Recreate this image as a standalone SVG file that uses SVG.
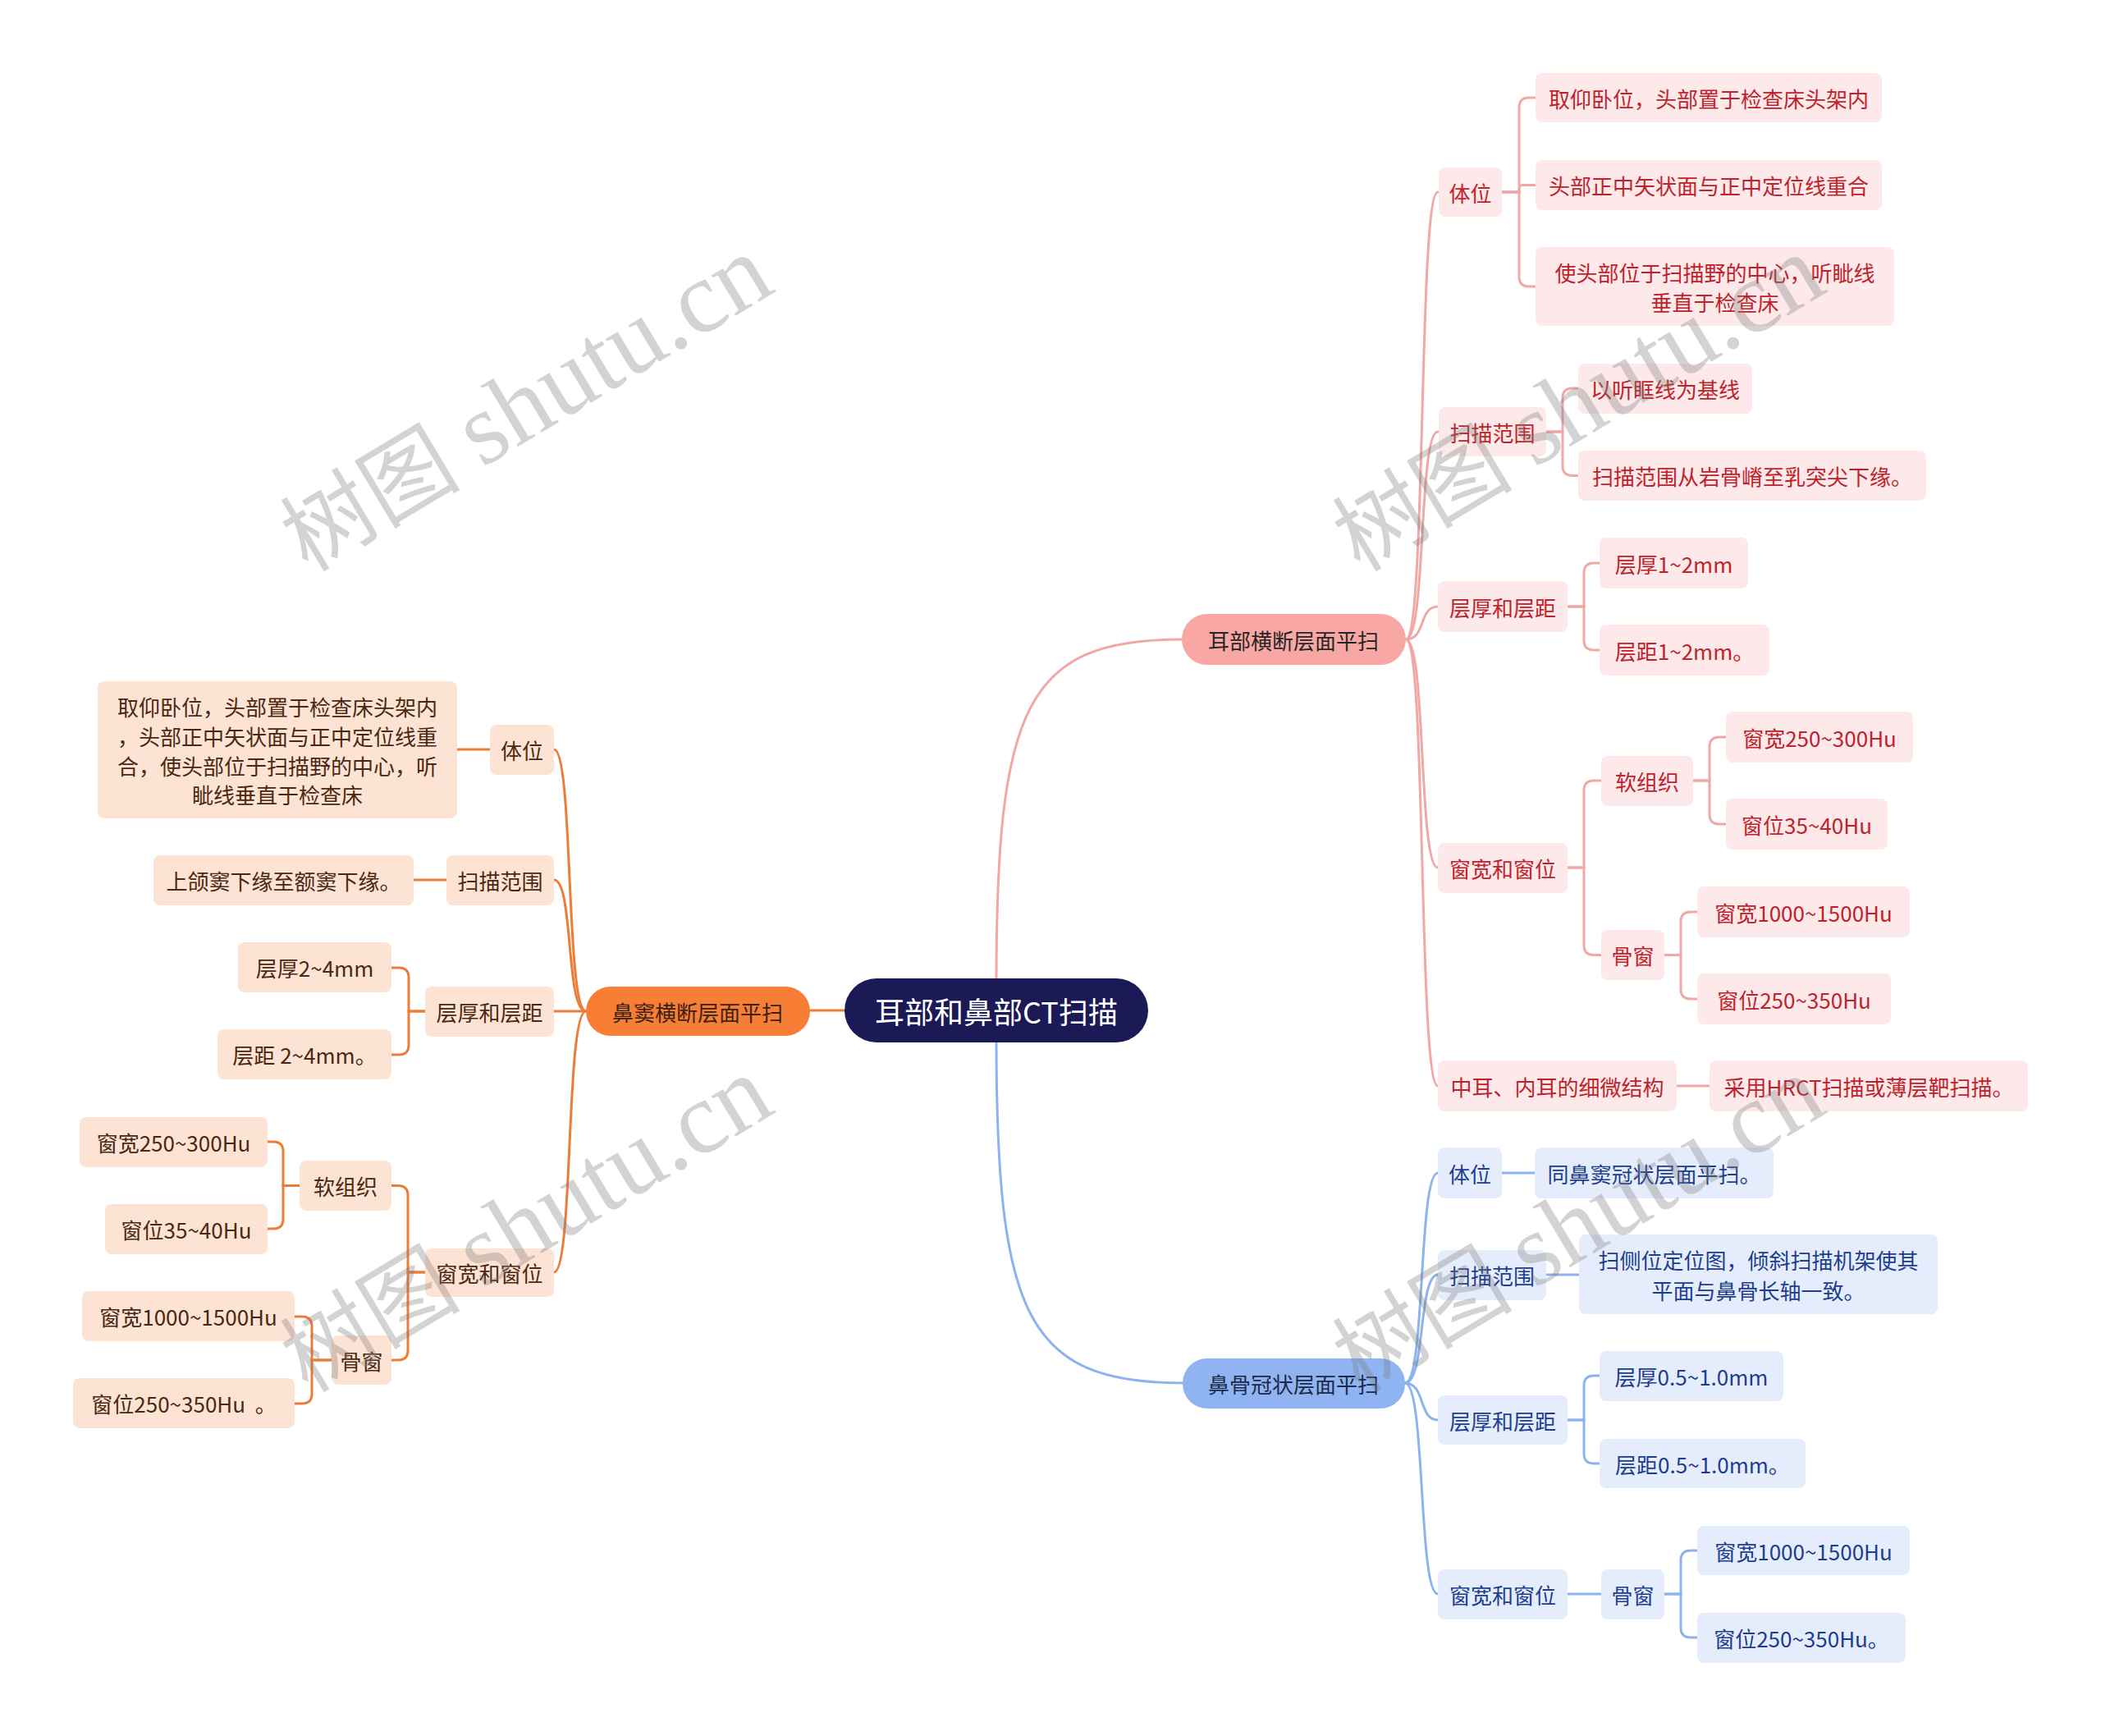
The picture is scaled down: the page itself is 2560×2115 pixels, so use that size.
<svg xmlns="http://www.w3.org/2000/svg" width="2560" height="2115" viewBox="0 0 2560 2115">
<style>
text{font-family:"Noto Sans CJK SC","Noto Sans",sans-serif;font-size:26px;text-anchor:middle;dominant-baseline:central}
.ln{fill:none;stroke-width:3;stroke-linecap:round}
.lp{stroke:#f0a8a6}
.lo{stroke:#ec7d38}
.lb{stroke:#8db2ec}
.pk rect{fill:#fde9e9}
.pk text{fill:#c0222b}
.or rect{fill:#fde3d3}
.or text{fill:#4a2812}
.bl rect{fill:#e5edfc}
.bl text{fill:#1d3d8e}
.wm{font-family:"Liberation Serif","Noto Sans CJK SC",serif;fill:#7a7a7a;opacity:0.32;text-anchor:start;dominant-baseline:alphabetic}
</style>
<rect width="2560" height="2115" fill="#ffffff"/>
<g id="connectors">
<path class="ln lp" d="M1214,1200 C1214,860 1250,779 1440,779"/>
<path class="ln lb" d="M1214,1262 C1214,1602 1250,1685 1441,1685"/>
<path class="ln lo" d="M1029,1231 H987"/>
<path class="ln lp" d="M1713,779 C1738,779 1728,234 1752,234"/>
<path class="ln lp" d="M1713,779 C1738,779 1728,526 1752,526"/>
<path class="ln lp" d="M1713,779 C1738,779 1728,739 1752,739"/>
<path class="ln lp" d="M1713,779 C1738,779 1728,1057 1752,1057"/>
<path class="ln lp" d="M1713,779 C1738,779 1728,1323 1752,1323"/>
<path class="ln lp" d="M1830,234 H1851 V131 Q1851,119 1863,119 H1871"/>
<path class="ln lp" d="M1830,234 H1851 V230 Q1851,225.5 1855.5,225.5 H1871"/>
<path class="ln lp" d="M1830,234 H1851 V337 Q1851,349 1863,349 H1871"/>
<path class="ln lp" d="M1884,526 H1904 V485 Q1904,473 1916,473 H1923"/>
<path class="ln lp" d="M1884,526 H1904 V567.5 Q1904,579.5 1916,579.5 H1923"/>
<path class="ln lp" d="M1910,739 H1930 V698 Q1930,686 1942,686 H1949"/>
<path class="ln lp" d="M1910,739 H1930 V780 Q1930,792 1942,792 H1949"/>
<path class="ln lp" d="M1910,1057 H1930 V963 Q1930,951 1942,951 H1951"/>
<path class="ln lp" d="M1910,1057 H1930 V1151.5 Q1930,1163.5 1942,1163.5 H1951"/>
<path class="ln lp" d="M2063,951 H2083 V910 Q2083,898 2095,898 H2103"/>
<path class="ln lp" d="M2063,951 H2083 V992 Q2083,1004 2095,1004 H2103"/>
<path class="ln lp" d="M2028,1163.5 H2048 V1123 Q2048,1111 2060,1111 H2068"/>
<path class="ln lp" d="M2028,1163.5 H2048 V1205 Q2048,1217 2060,1217 H2068"/>
<path class="ln lp" d="M2043,1323 H2083"/>
<path class="ln lb" d="M1712,1685 C1737,1685 1728,1429 1752,1429"/>
<path class="ln lb" d="M1712,1685 C1737,1685 1728,1553 1752,1553"/>
<path class="ln lb" d="M1712,1685 C1737,1685 1728,1730 1752,1730"/>
<path class="ln lb" d="M1712,1685 C1737,1685 1728,1942 1752,1942"/>
<path class="ln lb" d="M1830,1429 H1870"/>
<path class="ln lb" d="M1884,1553 H1924"/>
<path class="ln lb" d="M1910,1730 H1930 V1688 Q1930,1676 1942,1676 H1949"/>
<path class="ln lb" d="M1910,1730 H1930 V1771 Q1930,1783 1942,1783 H1949"/>
<path class="ln lb" d="M1910,1942 H1951"/>
<path class="ln lb" d="M2028,1942 H2048 V1901 Q2048,1889 2060,1889 H2068"/>
<path class="ln lb" d="M2028,1942 H2048 V1983 Q2048,1995 2060,1995 H2068"/>
<path class="ln lo" d="M714,1232 C689,1232 699,913 675,913"/>
<path class="ln lo" d="M714,1232 C689,1232 699,1072 675,1072"/>
<path class="ln lo" d="M714,1232 H675"/>
<path class="ln lo" d="M714,1232 C689,1232 699,1550 675,1550"/>
<path class="ln lo" d="M597,913 H557"/>
<path class="ln lo" d="M544,1072 H504"/>
<path class="ln lo" d="M518,1232 H498 V1191 Q498,1179 486,1179 H477"/>
<path class="ln lo" d="M518,1232 H498 V1273 Q498,1285 486,1285 H477"/>
<path class="ln lo" d="M518,1550 H497 V1456.5 Q497,1444.5 485,1444.5 H477"/>
<path class="ln lo" d="M518,1550 H497 V1645 Q497,1657 485,1657 H477"/>
<path class="ln lo" d="M365,1444.5 H345 V1403 Q345,1391 333,1391 H326"/>
<path class="ln lo" d="M365,1444.5 H345 V1485 Q345,1497 333,1497 H326"/>
<path class="ln lo" d="M404,1657 H380 V1616 Q380,1604 368,1604 H359"/>
<path class="ln lo" d="M404,1657 H380 V1698 Q380,1710 368,1710 H359"/>
</g>
<g id="root"><rect x="1029" y="1192" width="370" height="78" rx="39" fill="#1b1a57"/><text x="1214" y="1231" style="font-size:36px;fill:#ffffff">耳部和鼻部CT扫描</text></g>
<g id="ear"><rect x="1440" y="748" width="273" height="62" rx="31" fill="#f8a7a5"/><text x="1576" y="779" fill="#262626">耳部横断层面平扫</text></g>
<g id="sinus"><rect x="714" y="1202" width="273" height="60" rx="30" fill="#f77e34"/><text x="850" y="1232" fill="#3a2212">鼻窦横断层面平扫</text></g>
<g id="nasal"><rect x="1441" y="1655" width="271" height="61" rx="30" fill="#8fb4f1"/><text x="1576" y="1685" fill="#1c2a4a">鼻骨冠状层面平扫</text></g>

<g id="p1" class="pk"><rect x="1753" y="204" width="77" height="60" rx="8"/><text x="1791.5" y="234">体位</text></g>
<g id="p1a" class="pk"><rect x="1871" y="89" width="422" height="60" rx="8"/><text x="2082" y="119">取仰卧位，头部置于检查床头架内</text></g>
<g id="p1b" class="pk"><rect x="1871" y="195" width="422" height="61" rx="8"/><text x="2082" y="225.5">头部正中矢状面与正中定位线重合</text></g>
<g id="p1c" class="pk"><rect x="1871" y="301" width="437" height="96" rx="8"/><text x="2089.5" y="331">使头部位于扫描野的中心，听眦线</text><text x="2089.5" y="367">垂直于检查床</text></g>
<g id="p2" class="pk"><rect x="1753" y="496" width="131" height="60" rx="8"/><text x="1818.5" y="526">扫描范围</text></g>
<g id="p2a" class="pk"><rect x="1923" y="443" width="212" height="61" rx="8"/><text x="2029" y="473.5">以听眶线为基线</text></g>
<g id="p2b" class="pk"><rect x="1923" y="549" width="424" height="61" rx="8"/><text x="2135" y="579.5">扫描范围从岩骨嵴至乳突尖下缘。</text></g>
<g id="p3" class="pk"><rect x="1752" y="708" width="158" height="62" rx="8"/><text x="1831" y="739">层厚和层距</text></g>
<g id="p3a" class="pk"><rect x="1949" y="655" width="181" height="62" rx="8"/><text x="2039.5" y="686">层厚1~2mm</text></g>
<g id="p3b" class="pk"><rect x="1949" y="761" width="207" height="62" rx="8"/><text x="2052.5" y="792">层距1~2mm。</text></g>
<g id="p4" class="pk"><rect x="1752" y="1027" width="158" height="61" rx="8"/><text x="1831" y="1057.5">窗宽和窗位</text></g>
<g id="p4a" class="pk"><rect x="1951" y="921" width="112" height="61" rx="8"/><text x="2007" y="951.5">软组织</text></g>
<g id="p4a1" class="pk"><rect x="2103" y="867" width="228" height="62" rx="8"/><text x="2217" y="898">窗宽250~300Hu</text></g>
<g id="p4a2" class="pk"><rect x="2103" y="973" width="197" height="62" rx="8"/><text x="2201.5" y="1004">窗位35~40Hu</text></g>
<g id="p4b" class="pk"><rect x="1951" y="1133" width="77" height="61" rx="8"/><text x="1989.5" y="1163.5">骨窗</text></g>
<g id="p4b1" class="pk"><rect x="2068" y="1080" width="259" height="62" rx="8"/><text x="2197.5" y="1111">窗宽1000~1500Hu</text></g>
<g id="p4b2" class="pk"><rect x="2068" y="1186" width="236" height="62" rx="8"/><text x="2186" y="1217">窗位250~350Hu</text></g>
<g id="p5" class="pk"><rect x="1752" y="1292" width="291" height="62" rx="8"/><text x="1897.5" y="1323">中耳、内耳的细微结构</text></g>
<g id="p5a" class="pk"><rect x="2083" y="1292" width="388" height="62" rx="8"/><text x="2277" y="1323">采用HRCT扫描或薄层靶扫描。</text></g>

<g id="b1" class="bl"><rect x="1752" y="1398" width="78" height="62" rx="8"/><text x="1791" y="1429">体位</text></g>
<g id="b1a" class="bl"><rect x="1870" y="1398" width="291" height="62" rx="8"/><text x="2015.5" y="1429">同鼻窦冠状层面平扫。</text></g>
<g id="b2" class="bl"><rect x="1752" y="1523" width="132" height="61" rx="8"/><text x="1818" y="1553.5">扫描范围</text></g>
<g id="b2a" class="bl"><rect x="1924" y="1504" width="437" height="97" rx="8"/><text x="2142.5" y="1534">扫侧位定位图，倾斜扫描机架使其</text><text x="2142.5" y="1571">平面与鼻骨长轴一致。</text></g>
<g id="b3" class="bl"><rect x="1752" y="1700" width="158" height="60" rx="8"/><text x="1831" y="1730">层厚和层距</text></g>
<g id="b3a" class="bl"><rect x="1949" y="1646" width="224" height="61" rx="8"/><text x="2061" y="1676.5">层厚0.5~1.0mm</text></g>
<g id="b3b" class="bl"><rect x="1949" y="1753" width="251" height="60" rx="8"/><text x="2074.5" y="1783">层距0.5~1.0mm。</text></g>
<g id="b4" class="bl"><rect x="1752" y="1912" width="158" height="61" rx="8"/><text x="1831" y="1942.5">窗宽和窗位</text></g>
<g id="b4a" class="bl"><rect x="1951" y="1912" width="77" height="61" rx="8"/><text x="1989.5" y="1942.5">骨窗</text></g>
<g id="b4a1" class="bl"><rect x="2068" y="1859" width="259" height="60" rx="8"/><text x="2197.5" y="1889">窗宽1000~1500Hu</text></g>
<g id="b4a2" class="bl"><rect x="2068" y="1965" width="254" height="61" rx="8"/><text x="2195" y="1995.5">窗位250~350Hu。</text></g>

<g id="o1" class="or"><rect x="597" y="883" width="78" height="61" rx="8"/><text x="636" y="913.5">体位</text></g>
<g id="o1a" class="or"><rect x="119" y="830" width="438" height="167" rx="8"/><text x="338" y="860">取仰卧位，头部置于检查床头架内</text><text x="338" y="896">，头部正中矢状面与正中定位线重</text><text x="338" y="932">合，使头部位于扫描野的中心，听</text><text x="338" y="967">眦线垂直于检查床</text></g>
<g id="o2" class="or"><rect x="544" y="1042" width="131" height="61" rx="8"/><text x="609.5" y="1072.5">扫描范围</text></g>
<g id="o2a" class="or"><rect x="187" y="1042" width="317" height="61" rx="8"/><text x="345.5" y="1072.5">上颌窦下缘至额窦下缘。</text></g>
<g id="o3" class="or"><rect x="518" y="1202" width="157" height="61" rx="8"/><text x="596.5" y="1232.5">层厚和层距</text></g>
<g id="o3a" class="or"><rect x="290" y="1148" width="187" height="61" rx="8"/><text x="383.5" y="1178.5">层厚2~4mm</text></g>
<g id="o3b" class="or"><rect x="265" y="1254" width="212" height="61" rx="8"/><text x="371" y="1284.5">层距 2~4mm。</text></g>
<g id="o4" class="or"><rect x="518" y="1521" width="157" height="59" rx="8"/><text x="596.5" y="1550.5">窗宽和窗位</text></g>
<g id="o4a" class="or"><rect x="365" y="1414" width="112" height="61" rx="8"/><text x="421" y="1444.5">软组织</text></g>
<g id="o4a1" class="or"><rect x="97" y="1361" width="229" height="61" rx="8"/><text x="211.5" y="1391.5">窗宽250~300Hu</text></g>
<g id="o4a2" class="or"><rect x="128" y="1467" width="198" height="61" rx="8"/><text x="227" y="1497.5">窗位35~40Hu</text></g>
<g id="o4b" class="or"><rect x="404" y="1627" width="73" height="60" rx="8"/><text x="440.5" y="1657">骨窗</text></g>
<g id="o4b1" class="or"><rect x="100" y="1573" width="259" height="61" rx="8"/><text x="229.5" y="1603.5">窗宽1000~1500Hu</text></g>
<g id="o4b2" class="or"><rect x="89" y="1679" width="270" height="61" rx="8"/><text x="224" y="1709.5" style="white-space:pre">窗位250~350Hu  。</text></g>

<g id="watermarks">
<text class="wm" transform="translate(375,698) rotate(-31)"><tspan style="font-size:110px">树图 </tspan><tspan style="font-size:125px">shutu.cn</tspan></text>
<text class="wm" transform="translate(1657,698) rotate(-31)"><tspan style="font-size:110px">树图 </tspan><tspan style="font-size:125px">shutu.cn</tspan></text>
<text class="wm" transform="translate(375,1698) rotate(-31)"><tspan style="font-size:110px">树图 </tspan><tspan style="font-size:125px">shutu.cn</tspan></text>
<text class="wm" transform="translate(1657,1698) rotate(-31)"><tspan style="font-size:110px">树图 </tspan><tspan style="font-size:125px">shutu.cn</tspan></text>
</g>
</svg>
